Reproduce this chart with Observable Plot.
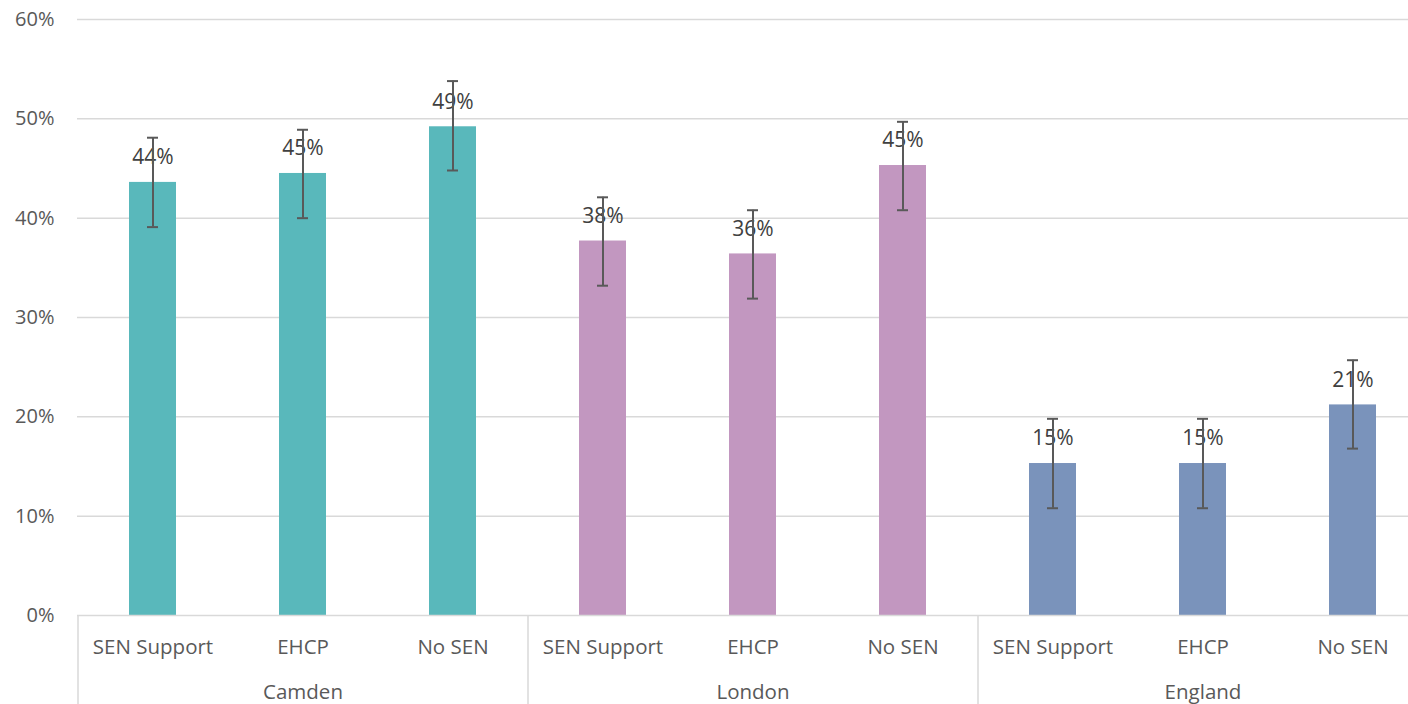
<!DOCTYPE html>
<html>
<head>
<meta charset="utf-8">
<script src="https://cdn.jsdelivr.net/npm/d3@7"></script>
<script src="https://cdn.jsdelivr.net/npm/@observablehq/plot@0.6"></script>
<style>
  html, body { margin: 0; padding: 0; background: #fff; overflow: hidden; }
  #chart { width: 1408px; height: 704px; overflow: hidden; }
  #chart svg { max-width: none !important; }
</style>
</head>
<body>
<div id="chart"></div>
<script>
const groups = ["Camden", "London", "England"];
const categories = ["SEN Support", "EHCP", "No SEN"];
const groupColors = ["#59b8bb", "#c297c0", "#7a93bb"];

const camdenValues = [43.6, 44.5, 49.2];
const londonValues = [37.7, 36.4, 45.3];
const englandValues = [15.3, 15.3, 21.2];

const camdenLower = [39.1, 40.0, 44.8];
const camdenUpper = [48.1, 48.9, 53.8];
const londonLower = [33.2, 31.9, 40.8];
const londonUpper = [42.1, 40.8, 49.7];
const englandLower = [10.8, 10.8, 16.8];
const englandUpper = [19.8, 19.8, 25.7];

const yTicks = [0, 10, 20, 30, 40, 50, 60];

const valueSets = [camdenValues, londonValues, englandValues];
const lowerSets = [camdenLower, londonLower, englandLower];
const upperSets = [camdenUpper, londonUpper, englandUpper];

const rows = [];
groups.forEach((g, gi) => {
  categories.forEach((c, ci) => {
    rows.push({
      key: g + "|" + c,
      group: g,
      category: c,
      value: valueSets[gi][ci],
      lo: lowerSets[gi][ci],
      hi: upperSets[gi][ci]
    });
  });
});
const keys = rows.map(d => d.key);
const firstKeys = groups.map(g => g + "|" + categories[0]);
const middleKeys = groups.map(g => g + "|" + categories[1]);

const chart = Plot.plot({
  width: 1427,
  height: 704,
  marginLeft: 77,
  marginRight: 0,
  marginTop: 19,
  marginBottom: 89,
  style: { fontFamily: "'Open Sans', sans-serif", background: "#fff", maxWidth: "none" },
  x: { type: "band", domain: keys, paddingInner: 0.687, paddingOuter: 0.3435, axis: null },
  y: { domain: [0, 60], axis: null },
  color: { domain: groups, range: groupColors },
  marks: [
    Plot.gridY(yTicks.filter(t => t > 0), { stroke: "#d9d9d9", strokeOpacity: 1, strokeWidth: 1.5 }),
    Plot.axisY({ ticks: yTicks, tickFormat: d => d + "%", tickSize: 0, tickPadding: 23, fontSize: 20, fill: "#595959", label: null }),
    Plot.barY(rows, { x: "key", y: "value", fill: "group" }),
    Plot.ruleY([0], { stroke: "#d9d9d9", strokeWidth: 1.5 }),
    Plot.axisX({ ticks: keys, tickSize: 0, tickPadding: 24, tickFormat: k => k.split("|")[1], fontSize: 20.5, fill: "#595959", label: null }),
    Plot.axisX({ ticks: middleKeys, tickSize: 0, tickPadding: 69, tickFormat: k => k.split("|")[0], fontSize: 20.5, fill: "#595959", label: null }),
    Plot.axisX({ ticks: firstKeys, tickSize: 89, tickFormat: () => "", dx: -75, stroke: "#d9d9d9", strokeWidth: 1.5, label: null }),
    Plot.text(rows, { x: "key", y: "value", text: d => Math.round(d.value) + "%", dy: -25, fontSize: 21, fill: "#404040" }),
    Plot.ruleX(rows, { x: "key", y1: "lo", y2: "hi", stroke: "#595959", strokeWidth: 2 }),
    Plot.tickY(rows, { x: "key", y: "lo", stroke: "#595959", strokeWidth: 2, inset: 18 }),
    Plot.tickY(rows, { x: "key", y: "hi", stroke: "#595959", strokeWidth: 2, inset: 18 })
  ]
});
chart.style.maxWidth = "none";
document.getElementById("chart").appendChild(chart);
</script>
</body>
</html>
